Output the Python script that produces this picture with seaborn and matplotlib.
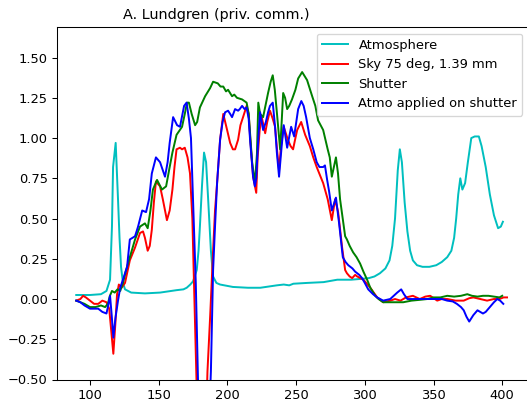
import matplotlib
matplotlib.use("Agg")
import matplotlib.pyplot as plt
import seaborn as sns
import pandas as pd

# ---- data (x, value) pairs ----
atmosphere = [(90,0.025),(100,0.025),(108,0.03),(112,0.05),(114.6,0.12),(116,0.45),(116.8,0.82),(118.7,0.97),
              (120.4,0.62),(121.5,0.38),(122.6,0.2),(124,0.1),(125.5,0.06),(130,0.04),(140,0.035),(151,0.04),
              (163,0.055),(168,0.06),(170.4,0.07),(173,0.09),(175,0.11),(177.7,0.18),(179,0.3),(180,0.45),
              (181.5,0.7),(183,0.91),(184.5,0.85),(186,0.62),(188,0.3),(189.6,0.14),(192,0.1),(194.7,0.09),
              (204,0.075),(215,0.07),(224,0.07),(236,0.085),(241,0.09),(245,0.085),(248,0.095),(258,0.1),(270,0.105),
              (280,0.12),(290,0.12),(297,0.125),(303,0.13),(307,0.14),(311,0.16),(315,0.19),(318,0.24),(320,0.33),
              (322,0.5),(324,0.8),(325.5,0.93),(327,0.85),(329,0.6),(331,0.42),(333,0.3),(335,0.24),(338,0.21),
              (342,0.2),(347,0.2),(352,0.21),(356,0.23),(360,0.26),(363,0.3),(365,0.38),(366.5,0.5),(368,0.65),
              (369.5,0.75),(371,0.68),(373,0.72),(375,0.85),(377.5,1.0),(380,1.01),(383,1.01),(385,0.95),
              (388,0.82),(391,0.65),(394,0.52),(397,0.44),(399,0.45),(400.5,0.48)]

sky = [(90,-0.01),(93,0.0),(95,0.02),(97,0.01),(100,-0.01),(103,-0.03),(106,-0.03),(109,-0.01),(112,-0.02),
       (114,-0.06),(115.5,-0.2),(117,-0.34),(118.5,-0.15),(119.7,0.03),(121,0.09),(123,0.07),(125.5,0.1),
       (127,0.16),(129,0.24),(132.8,0.32),(136.4,0.41),(138.6,0.42),(140,0.38),(142,0.3),(143.5,0.33),
       (145,0.43),(146.5,0.6),(148,0.73),(151,0.7),(153,0.62),(156,0.49),(158,0.55),(160,0.68),(161.5,0.82),
       (163,0.93),(165.5,0.94),(167,0.93),(169,0.94),(171,0.88),(172.8,0.78),(174.5,0.5),(176,0.0),
       (177.5,-0.5),(181,-1.5),(184,-0.9),(185.5,-0.45),(187.5,-0.1),(189.6,0.3),(191,0.55),(192.5,0.72),
       (194.7,0.99),(197,1.15),(199.8,1.05),(202,0.97),(204,0.93),(205.6,0.93),(207.8,0.99),(209.5,1.08),
       (211.4,1.13),(214,1.2),(215.5,1.15),(216.5,1.01),(218.7,0.76),(221,0.66),(222,0.88),(223.5,1.05),
       (225,1.13),(227.5,1.03),(229,1.1),(231,1.17),(233,1.12),(234.7,1.07),(236.2,0.92),(237.6,0.8),
       (239,0.95),(241,1.07),(244,0.99),(246,0.95),(247.8,0.93),(249.5,1.0),(250.8,1.05),(253.7,1.1),
       (256.6,1.02),(260,0.95),(262.5,0.88),(265,0.82),(269.7,0.72),(273,0.62),(276,0.49),(278.4,0.62),
       (280.6,0.54),(283.5,0.32),(285.7,0.18),(287,0.16),(289,0.14),(290.8,0.13),(293,0.15),(294.5,0.14),
       (299,0.12),(304,0.07),(309,0.01),(313.4,-0.02),(318.5,-0.01),(322,0.0),(326,-0.01),(330,0.01),
       (335,0.02),(340,0.0),(344,0.015),(347.6,0.02),(352.7,-0.01),(356,0.0),(360,0.0),(366,-0.01),
       (372,-0.01),(376,0.005),(379,0.01),(384,0.0),(389,-0.01),(394,0.0),(398,0.0),(401,0.01),(403.5,0.01)]

shutter = [(90,-0.01),(93,-0.02),(96,-0.03),(100,-0.05),(104,-0.05),(108,-0.04),(111,-0.05),(113,-0.03),
           (114.5,0.02),(116,0.05),(118,0.04),(120,0.06),(122,0.05),(124,0.1),(126,0.17),(129,0.26),
           (132.8,0.37),(136.4,0.45),(140,0.47),(142,0.44),(144,0.55),(145.8,0.68),(148.8,0.74),(152.4,0.68),
           (155.4,0.7),(158,0.82),(160,0.91),(163,1.02),(167,1.07),(169,1.15),(170.6,1.22),(172,1.22),
           (174,1.15),(176.5,1.08),(178,1.1),(180,1.19),(183.8,1.26),(187.4,1.31),(189.6,1.35),(193,1.34),
           (195,1.32),(197,1.32),(199,1.29),(200.5,1.3),(203.4,1.26),(205,1.27),(207,1.25),(210.7,1.24),
           (214,1.22),(215.5,1.15),(216.5,1.03),(218,0.85),(220,0.72),(221.5,0.9),(222.5,1.22),(223.8,1.15),
           (226,1.13),(229.6,1.28),(231.5,1.35),(233,1.39),(234.5,1.3),(236,1.16),(238.4,0.93),(239.5,1.1),
           (240.6,1.28),(242,1.25),(243.5,1.18),(245,1.2),(247,1.24),(249.5,1.3),(251.5,1.37),(254.4,1.41),
           (258,1.36),(261.7,1.26),(264,1.2),(266,1.11),(269.7,1.05),(273,0.93),(274.5,0.88),(276,0.76),
           (277.5,0.82),(279,0.88),(280.5,0.78),(282,0.62),(285.7,0.39),(287,0.37),(289,0.33),(291.5,0.29),
           (294,0.26),(296.6,0.22),(299,0.17),(301.7,0.12),(304,0.07),(307.6,0.02),(310,0.0),(313.4,-0.02),
           (318,-0.02),(322,-0.02),(328,-0.02),(334,-0.01),(340,-0.005),(345.5,0.0),(350,0.01),(355,0.01),
           (360,0.02),(365,0.015),(370,0.02),(374.6,0.03),(378,0.02),(382,0.015),(386,0.02),(390,0.02),
           (394,0.015),(398,0.01),(400,0.02)]

atmo_on_shutter = [(90,-0.01),(93,-0.02),(96,-0.04),(100,-0.06),(103,-0.06),(106,-0.06),(109,-0.08),(112,-0.09),
                   (113.5,-0.03),(114.6,0.02),(115.8,-0.1),(117,-0.24),(118.5,-0.12),(120.4,-0.01),(122,0.07),
                   (124,0.12),(127,0.2),(129,0.37),(132.8,0.39),(135,0.45),(138,0.55),(140.8,0.54),(143,0.62),
                   (145,0.78),(148,0.88),(151,0.85),(153,0.8),(154.6,0.76),(156.5,0.85),(158,0.97),(160.5,1.13),
                   (163.4,1.08),(165.5,1.07),(168.5,1.2),(170.3,1.22),(172,1.12),(173.5,1.0),(175,0.62),(177,0.1),
                   (178.6,-0.5),(182.5,-1.5),(186,-0.9),(188,-0.45),(189.6,0.18),(191,0.45),(192.5,0.72),
                   (194.7,0.99),(196.5,1.1),(198.3,1.16),(200.5,1.17),(202,1.15),(203.4,1.13),(205.6,1.18),
                   (207.8,1.17),(209,1.18),(210.7,1.2),(212.5,1.18),(214,1.19),(215.5,1.12),(216.5,0.99),
                   (218.7,0.76),(220,0.7),(221,0.75),(222.5,1.0),(223.8,1.16),(226,1.05),(228,1.1),(229.6,1.16),
                   (231,1.2),(233,1.22),(234.7,1.07),(236,0.91),(237.6,0.76),(239.5,0.95),(241,1.08),(243.5,0.94),
                   (246.4,1.07),(248.6,1.01),(251.5,1.18),(253.8,1.23),(255.5,1.2),(257.3,1.13),(260,1.0),
                   (262.5,0.93),(265,0.85),(267,0.82),(269.7,0.82),(271,0.83),(272.6,0.74),(274,0.67),(276,0.55),
                   (279,0.63),(281.3,0.47),(284,0.26),(286,0.23),(288,0.21),(291,0.19),(293,0.17),(296,0.15),
                   (298,0.13),(300,0.1),(302.5,0.06),(306,0.03),(309,0.01),(313.4,-0.01),(318.5,0.0),(321,0.02),
                   (323.6,0.04),(326.5,0.06),(328.5,0.03),(331,0.0),(336,0.0),(342,0.0),(350,0.0),(356,0.0),
                   (360,-0.01),(364,-0.015),(367,-0.03),(370,-0.05),(372,-0.07),(374,-0.11),(376,-0.14),
                   (379,-0.1),(382,-0.07),(384,-0.08),(386,-0.09),(388,-0.08),(391,-0.05),(394,-0.02),
                   (396.4,0.0),(398.5,-0.01),(400.8,-0.03)]

series = [("Atmosphere", atmosphere, "c"),
          ("Sky 75 deg, 1.39 mm", sky, "r"),
          ("Shutter", shutter, "g"),
          ("Atmo applied on shutter", atmo_on_shutter, "b")]

title = "A. Lundgren (priv. comm.)"
x_ticks = [100, 150, 200, 250, 300, 350, 400]
y_ticks = [-0.5, -0.25, 0.0, 0.25, 0.5, 0.75, 1.0, 1.25, 1.5]

DPI = 94
fig = plt.figure(figsize=(527 / DPI, 401 / DPI), dpi=DPI)
ax = fig.add_axes([57 / 527, (401 - 379.5) / 401, 472 / 527, 352.5 / 401])

for label, pts, color in series:
    df = pd.DataFrame(pts, columns=["x", "y"])
    sns.lineplot(data=df, x="x", y="y", color=color, label=label, ax=ax,
                 sort=False, estimator=None, linewidth=1.5)

ax.set_xlim(76, 419.5)
ax.set_ylim(-0.5, 1.69)
ax.set_xticks(x_ticks)
ax.set_yticks(y_ticks)
ax.set_xlabel("")
ax.set_ylabel("")
ax.set_title(title, fontsize=11, x=0.337)
ax.legend(loc="upper right")

fig.savefig("out.png", dpi=DPI)
